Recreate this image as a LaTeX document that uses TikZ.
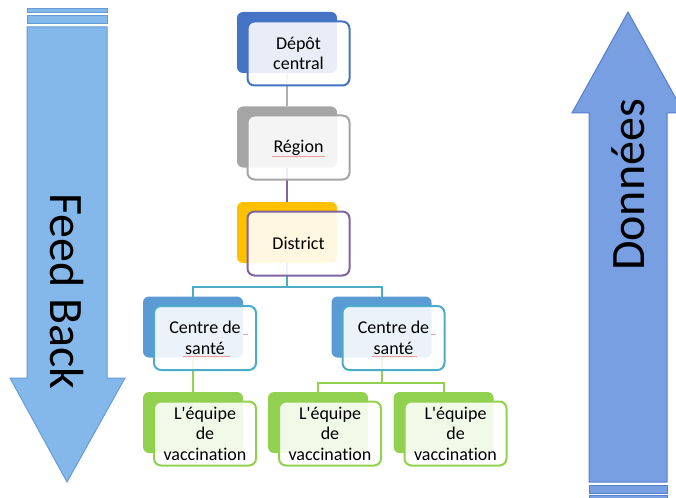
\documentclass[tikz,border=0pt]{standalone}
\usepackage{fontspec}
\setmainfont{Carlito}[Ligatures=NoCommon]
\definecolor{lfill}{RGB}{133,184,234}
\definecolor{lline}{RGB}{100,156,216}
\definecolor{rfill}{RGB}{120,159,226}
\definecolor{rline}{RGB}{86,126,206}
\definecolor{cblue}{RGB}{68,114,196}
\definecolor{cgray}{RGB}{165,165,165}
\definecolor{cgold}{RGB}{255,192,0}
\definecolor{cpurple}{RGB}{128,100,162}
\definecolor{cmid}{RGB}{91,155,213}
\definecolor{cteal}{RGB}{75,172,198}
\definecolor{cgreen}{RGB}{146,208,80}
\definecolor{cspell}{RGB}{235,120,120}
\newcommand{\equipetext}{L\textquotesingle équipe\\de\\vaccination}
\begin{document}
\begin{tikzpicture}[x=1pt,y=-1pt,
  backbox/.style={rounded corners=6pt, minimum width=100pt, minimum height=61pt, inner sep=0pt, outer sep=0pt},
  frontbox/.style={rounded corners=7pt, line width=2pt, fill=white, fill opacity=0.88, text opacity=1,
    minimum width=102pt, minimum height=64pt, inner sep=1pt, align=center,
    font=\fontsize{18}{20.5}\selectfont, text=black},
  link/.style={line width=2pt},
  squiggle/.style={draw=cspell, line width=0.6pt, opacity=0.7},
  bigarrow/.style={line width=1pt},
  bigtext/.style={font=\fontsize{48}{52}\selectfont, text=black, inner sep=0pt}
]
\useasboundingbox (0,0) rectangle (676,497);

% left arrow
\draw[bigarrow, fill=lfill, draw=lline] (27,9) rectangle (107,13);
\draw[bigarrow, fill=lfill, draw=lline] (27,16) rectangle (107,24);
\draw[bigarrow, fill=lfill, draw=lline] (27,27) -- (107,27) -- (107,378) -- (125,378) -- (67,482) -- (10,378) -- (27,378) -- cycle;
\node[bigtext, rotate=-90, anchor=base] (fb) at (50,291.5) {Feed Back};

% right arrow
\draw[bigarrow, fill=rfill, draw=rline] (589,482) -- (589,113) -- (572,113) -- (628,12) -- (684,113) -- (667,113) -- (667,482) -- cycle;
\draw[bigarrow, fill=rfill, draw=rline] (589,485) rectangle (667,493);
\draw[bigarrow, fill=rfill, draw=rline] (589,495) rectangle (667,502);
\node[bigtext, rotate=90, anchor=base] (dn) at (644,185) {Données};

% back boxes
\node[backbox, fill=cblue] (depB) at (287,42.5) {};
\node[backbox, fill=cgray] (regB) at (287,137) {};
\node[backbox, fill=cgold] (disB) at (287,232.5) {};
\node[backbox, fill=cmid] (c1B) at (193,327) {};
\node[backbox, fill=cmid] (c2B) at (381.5,327) {};
\node[backbox, fill=cgreen] (e1B) at (193,422.5) {};
\node[backbox, fill=cgreen] (e2B) at (318,422.5) {};
\node[backbox, fill=cgreen] (e3B) at (443.5,422.5) {};

% connectors
\draw[link, draw=cgray!90] (depB.south) -- (regB.north);
\draw[link, draw=cpurple] (regB.south) -- (disB.north);
\draw[link, draw=cteal] (disB.south) -- ++(0,24) -| (c1B.north);
\draw[link, draw=cteal] (disB.south) -- ++(0,24) -| (c2B.north);
\draw[link, draw=cgreen] (c1B.south) -- (e1B.north);
\draw[link, draw=cgreen] (c2B.south) -- ++(0,25) -| (e2B.north);
\draw[link, draw=cgreen] (c2B.south) -- ++(0,25) -| (e3B.north);

% front boxes
\node[frontbox, draw=cblue] (dep) at (298.5,53.5) {Dépôt\\central};
\node[frontbox, draw=cgray] (reg) at (298.5,147.5) {Région};
\node[frontbox, draw=cpurple] (dis) at (298.5,243.5) {District};
\node[frontbox, draw=cteal] (c1) at (205,338) {Centre de\\santé};
\node[frontbox, draw=cteal] (c2) at (393.5,338) {Centre de\\santé};
\node[frontbox, draw=cgreen] (e1) at (205,433.5) {\equipetext};
\node[frontbox, draw=cgreen] (e2) at (330,433.5) {\equipetext};
\node[frontbox, draw=cgreen] (e3) at (455.5,433.5) {\equipetext};

% spell-check marks
\draw[squiggle] (272,156) -- (325,156);
\draw[squiggle] (183,356) -- (230,356);
\draw[squiggle] (243,334) -- (248,334);
\draw[squiggle] (372,356) -- (417,356);
\draw[squiggle] (431,334) -- (436,334);
\end{tikzpicture}
\end{document}
